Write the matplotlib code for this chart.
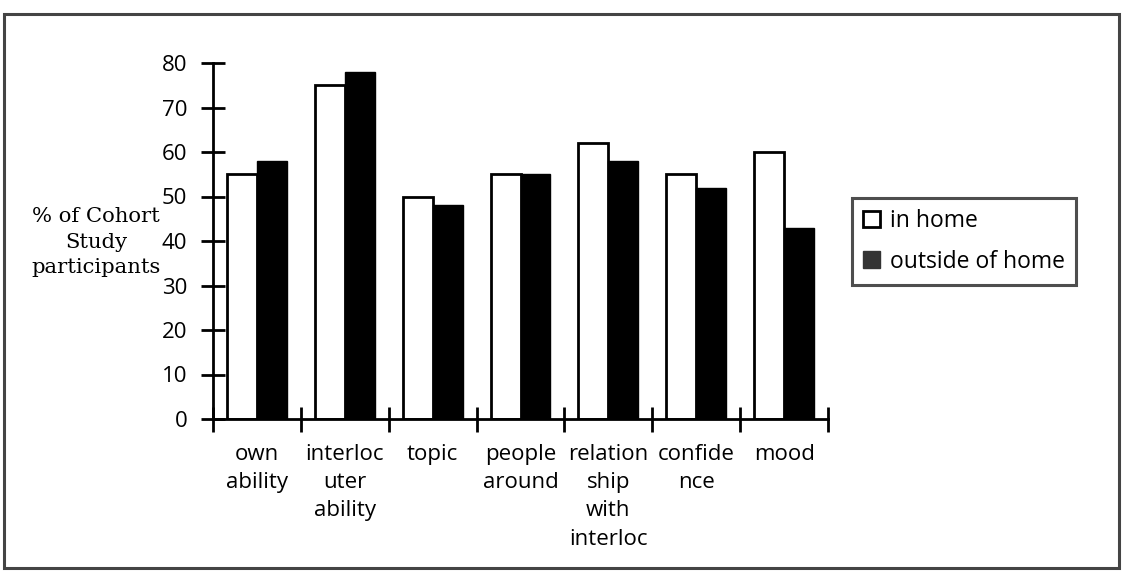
import matplotlib
matplotlib.use("Agg")
import matplotlib.pyplot as plt
from matplotlib.patches import Patch, Rectangle
import numpy as np

categories = ["own\nability", "interloc\nuter\nability", "topic", "people\naround",
              "relation\nship\nwith\ninterloc", "confide\nnce", "mood"]
in_home = [55, 75, 50, 55, 62, 55, 60]
outside_home = [58, 78, 48, 55, 58, 52, 43]
series_labels = ["in home", "outside of home"]
y_ticks = [0, 10, 20, 30, 40, 50, 60, 70, 80]
y_label = "% of Cohort\nStudy\nparticipants"

sans = ["Open Sans", "DejaVu Sans"]
serif = ["DejaVu Serif"]

fig = plt.figure(figsize=(11.23, 5.71), dpi=100)
fig.patch.set_facecolor("white")
ax = fig.add_axes([213 / 1123, 1 - 419 / 571, (828 - 213) / 1123, (419 - 63) / 571])

n = len(categories)
x = np.arange(n)
w = 0.34
ax.bar(x + 0.5 - w / 2, in_home, width=w, facecolor="white", edgecolor="black",
       linewidth=2.0, zorder=3)
ax.bar(x + 0.5 + w / 2, outside_home, width=w, facecolor="black", edgecolor="black",
       linewidth=1.0, zorder=3)

ax.set_xlim(0, n)
ax.set_ylim(0, 80)
ax.set_yticks(y_ticks)
ax.set_yticklabels([str(v) for v in y_ticks], fontfamily=sans, fontsize=16)
ax.set_xticks(np.arange(n + 1))
ax.set_xticklabels([])
ax.set_xticks(x + 0.5, minor=True)
ax.set_xticklabels(categories, minor=True, fontfamily=sans, fontsize=16,
                   linespacing=1.45, va="top")
ax.tick_params(axis="x", which="minor", length=0, pad=18)
ax.tick_params(axis="x", which="major", direction="inout", length=18, width=2)
ax.tick_params(axis="y", direction="inout", length=17, width=2, pad=10)

for s in ("top", "right"):
    ax.spines[s].set_visible(False)
for s in ("left", "bottom"):
    ax.spines[s].set_linewidth(2)
    ax.spines[s].set_zorder(4)

fig.text(96 / 1123, 1 - 242 / 571, y_label, ha="center", va="center",
         multialignment="center", fontfamily=serif, fontsize=15.2, linespacing=1.42)

handles = [Patch(facecolor="white", edgecolor="black", linewidth=2),
           Patch(facecolor="#333333", edgecolor="#333333")]
leg = fig.legend(handles, series_labels, loc="upper left",
                 bbox_to_anchor=(852 / 1123, 1 - 198 / 571), borderaxespad=0,
                 prop={"family": sans, "size": 16.5}, frameon=True, fancybox=False,
                 handlelength=0.7, handleheight=0.7, handletextpad=0.45,
                 borderpad=0.5, labelspacing=0.7)
leg.get_frame().set_edgecolor("#222222")
leg.get_frame().set_linewidth(2.2)

# outer frame around the whole chart area
fig.add_artist(Rectangle((4 / 1123, 1 - 568 / 571), (1119 - 4) / 1123, (568 - 14) / 571,
                         transform=fig.transFigure, fill=False, edgecolor="#444444",
                         linewidth=2.2))

fig.savefig("out.png", dpi=100, facecolor="white")
